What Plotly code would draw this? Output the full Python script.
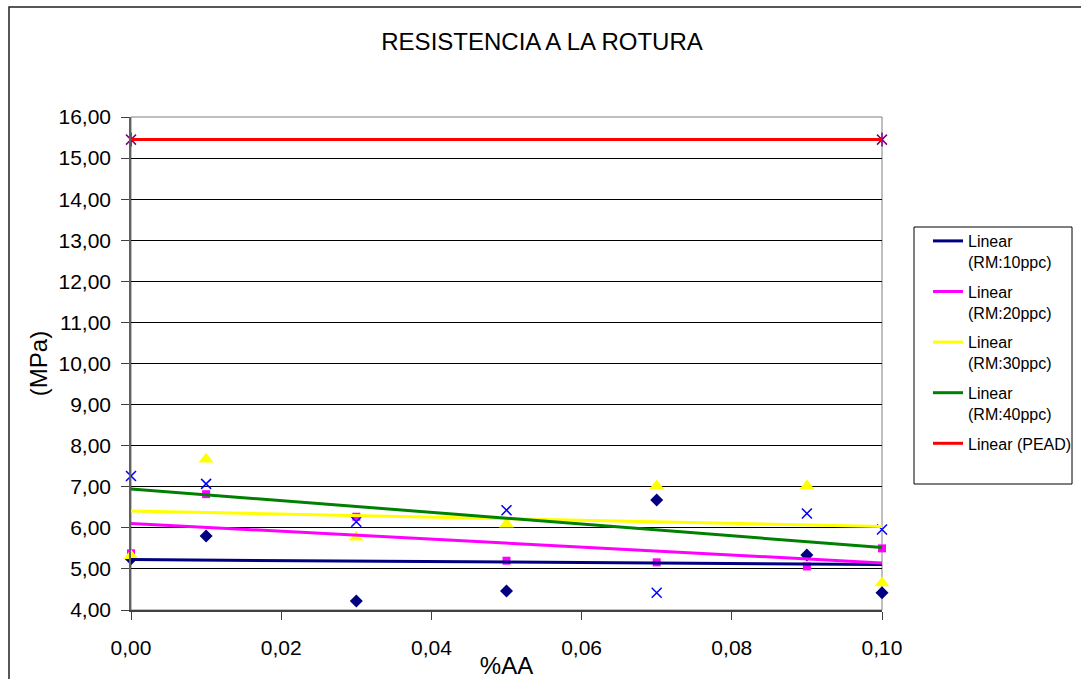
import numpy as np
import plotly.graph_objects as go

# %AA content of each sample
x_aa = [0.00, 0.01, 0.03, 0.05, 0.07, 0.09, 0.10]

# Tensile strength at break (MPa) for each recycled-material loading
rm10 = [5.25, 5.80, 4.22, 4.46, 6.68, 5.34, 4.42]
rm20 = [5.38, 6.82, 6.27, 5.20, 5.16, 5.06, 5.50]
rm30 = [5.32, 7.67, 5.77, 6.09, 7.02, 7.02, 4.66]
rm40 = [7.26, 7.07, 6.15, 6.43, 4.42, 6.35, 5.96]

# Reference virgin HDPE
x_pead = [0.00, 0.10]
pead = [15.45, 15.45]

y_ticks = [4, 5, 6, 7, 8, 9, 10, 11, 12, 13, 14, 15, 16]
x_ticks = [0.00, 0.02, 0.04, 0.06, 0.08, 0.10]

FONT = "Liberation Sans, Arial, sans-serif"

series = [
    ("RM:10ppc", x_aa, rm10, dict(symbol="diamond", size=10, color="#000080"), "#000080"),
    ("RM:20ppc", x_aa, rm20, dict(symbol="square", size=8, color="#FF00FF"), "#FF00FF"),
    ("RM:30ppc", x_aa, rm30, dict(symbol="triangle-up", size=13, color="#FFFF00"), "#FFFF00"),
    ("RM:40ppc", x_aa, rm40, dict(symbol="x-thin", size=10, color="#0000FF",
                                  line=dict(color="#0000FF", width=1.5)), "#008000"),
    ("PEAD", x_pead, pead, dict(symbol="x-thin", size=10, color="#800080",
                                line=dict(color="#800080", width=1.5)), "#FF0000"),
]

fig = go.Figure()

# Measured points (not listed in the legend)
for name, xs, ys, marker, _ in series:
    fig.add_trace(go.Scatter(x=xs, y=ys, mode="markers", marker=marker,
                             showlegend=False, name=name, hoverinfo="x+y",
                             cliponaxis=False))

# Vertical stroke that turns the PEAD x into a star
fig.add_trace(go.Scatter(x=x_pead, y=pead, mode="markers", showlegend=False,
                         cliponaxis=False,
                         marker=dict(symbol="line-ns", size=10,
                                     line=dict(color="#800080", width=1.5))))

# Least-squares trend lines
for name, xs, ys, _, lcolor in series:
    slope, intercept = np.polyfit(xs, ys, 1)
    xl = np.array([min(xs), max(xs)])
    label = "Linear<br>(%s)" % name if name != "PEAD" else "Linear (PEAD)"
    fig.add_trace(go.Scatter(x=xl, y=slope * xl + intercept, mode="lines",
                             line=dict(color=lcolor, width=3), name=label,
                             legendgroup=name))

L, R, T, B = 131, 199, 117, 69
W, H = 1081, 679
pw, ph = W - L - R, H - T - B


def px(x):
    return (x - L) / pw


def py(y):
    return (H - B - y) / ph


fig.update_layout(
    width=W, height=H,
    margin=dict(l=L, r=R, t=T, b=B, autoexpand=False),
    paper_bgcolor="white", plot_bgcolor="white",
    font=dict(family=FONT, color="black"),
    title=dict(text="RESISTENCIA A LA ROTURA", x=542 / W, xref="container",
               xanchor="center", y=1 - 42 / H, yref="container", yanchor="middle",
               font=dict(size=24, family=FONT)),
    xaxis=dict(range=[0, 0.1], tickvals=x_ticks,
               ticktext=[("%.2f" % v).replace(".", ",") for v in x_ticks],
               showgrid=False, zeroline=False, showline=True, automargin=False,
               linecolor="#404040", linewidth=2, ticks="outside", ticklen=8,
               tickcolor="#404040", tickfont=dict(size=21),
               ticklabelstandoff=10,
               title=dict(text="%AA", font=dict(size=24), standoff=0)),
    yaxis=dict(range=[4, 16], tickvals=y_ticks,
               ticktext=[("%.2f" % v).replace(".", ",") for v in y_ticks],
               showgrid=True, gridcolor="black", gridwidth=1, zeroline=False,
               showline=True, linecolor="#606060", linewidth=1.5, automargin=False,
               ticks="outside", ticklen=8, tickcolor="#404040",
               tickfont=dict(size=21), ticklabelstandoff=6,
               title=dict(text="(MPa)", font=dict(size=24), standoff=4)),
    legend=dict(x=px(928), y=py(224), xanchor="left", yanchor="top",
                bgcolor="rgba(0,0,0,0)", borderwidth=0, valign="top",
                traceorder="grouped", tracegroupgap=6,
                font=dict(size=16, family=FONT)),
    shapes=[
        # plot area frame
        dict(type="rect", xref="paper", yref="paper", x0=0, x1=1, y0=0, y1=1,
             line=dict(color="#808080", width=1), layer="below"),
        # legend frame
        dict(type="rect", xref="paper", yref="paper", x0=px(914), x1=px(1072),
             y0=py(484), y1=py(227), line=dict(color="black", width=1)),
        # chart border
        dict(type="rect", xref="paper", yref="paper", x0=px(9), x1=px(1095),
             y0=py(695), y1=py(7), line=dict(color="#202020", width=1.5)),
    ],
)

fig.write_html("out.html")
